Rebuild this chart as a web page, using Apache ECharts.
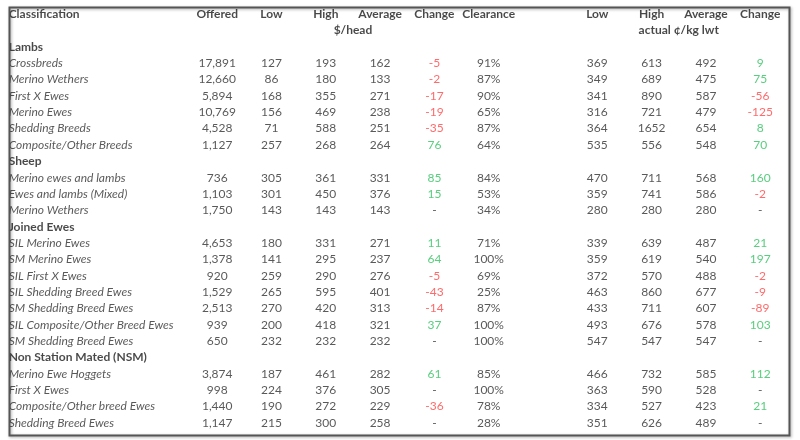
<!DOCTYPE html>
<html><head><meta charset="utf-8">
<script src="https://cdn.jsdelivr.net/npm/echarts@6/dist/echarts.min.js"></script>
<style>html,body{margin:0;padding:0;background:#fff}#c{width:800px;height:440px}</style>
</head><body><div id="c"></div>
<script>
// ---- data ----
const columnHeaders = ['Offered','Low','High','Average','Change','Clearance','Low','High','Average','Change'];
const unitHeaders = ['$/head','actual ¢/kg lwt'];
const sections = ['Lambs','Sheep','Joined Ewes','Non Station Mated (NSM)'];
const lambsNames = ['Crossbreds','Merino Wethers','First X Ewes','Merino Ewes','Shedding Breeds','Composite/Other Breeds'];
const lambsValues = [
  ['17,891','127','193','162','-5','91%','369','613','492','9'],
  ['12,660','86','180','133','-2','87%','349','689','475','75'],
  ['5,894','168','355','271','-17','90%','341','890','587','-56'],
  ['10,769','156','469','238','-19','65%','316','721','479','-125'],
  ['4,528','71','588','251','-35','87%','364','1652','654','8'],
  ['1,127','257','268','264','76','64%','535','556','548','70']
];
const sheepNames = ['Merino ewes and lambs','Ewes and lambs (Mixed)','Merino Wethers'];
const sheepValues = [
  ['736','305','361','331','85','84%','470','711','568','160'],
  ['1,103','301','450','376','15','53%','359','741','586','-2'],
  ['1,750','143','143','143','-','34%','280','280','280','-']
];
const joinedNames = ['SIL Merino Ewes','SM Merino Ewes','SIL First X Ewes','SIL Shedding Breed Ewes','SM Shedding Breed Ewes','SIL Composite/Other Breed Ewes','SM Shedding Breed Ewes'];
const joinedValues = [
  ['4,653','180','331','271','11','71%','339','639','487','21'],
  ['1,378','141','295','237','64','100%','359','619','540','197'],
  ['920','259','290','276','-5','69%','372','570','488','-2'],
  ['1,529','265','595','401','-43','25%','463','860','677','-9'],
  ['2,513','270','420','313','-14','87%','433','711','607','-89'],
  ['939','200','418','321','37','100%','493','676','578','103'],
  ['650','232','232','232','-','100%','547','547','547','-']
];
const nsmNames = ['Merino Ewe Hoggets','First X Ewes','Composite/Other breed Ewes','Shedding Breed Ewes'];
const nsmValues = [
  ['3,874','187','461','282','61','85%','466','732','585','112'],
  ['998','224','376','305','-','100%','363','590','528','-'],
  ['1,440','190','272','229','-36','78%','334','527','423','21'],
  ['1,147','215','300','258','-','28%','351','626','489','-']
];

// ---- layout ----
const colSlots = [0,1,2,3,4,5,7,8,9,10];
const unitSlots = [2.5, 8.5];
const classSlot = -3.85;
const changeCols = [4, 9];
const FONT = 'Lato';
const TXT = '#303030', HEAD = '#1a1a1a', RED = '#ff4545', GREEN = '#2ec25e';

const groups = [
  [sections[0], lambsNames, lambsValues],
  [sections[1], sheepNames, sheepValues],
  [sections[2], joinedNames, joinedValues],
  [sections[3], nsmNames, nsmValues]
];
const rows = [];
rows.push({type:'head'});
rows.push({type:'unit'});
groups.forEach(g => {
  rows.push({type:'section', name:g[0]});
  g[1].forEach((n,i) => rows.push({type:'item', name:n, values:g[2][i]}));
});
const yCats = rows.map((r,i)=>String(i));

const classData = [];
const colData = colSlots.map(()=>[]);
rows.forEach((r,i) => {
  if (r.type==='head') {
    classData.push({value:[classSlot,i], label:{formatter:'Classification', fontWeight:'bold', color:HEAD}});
    columnHeaders.forEach((h,c)=>colData[c].push({value:[colSlots[c],i], label:{formatter:h, fontWeight:'bold', color:HEAD}}));
  } else if (r.type==='unit') {
    unitHeaders.forEach((h,k)=>colData[k===0?3:8].push({value:[unitSlots[k],i], label:{formatter:h, fontWeight:'bold', color:HEAD}}));
  } else if (r.type==='section') {
    classData.push({value:[classSlot,i], label:{formatter:r.name, fontWeight:'bold', color:HEAD}});
  } else {
    classData.push({value:[classSlot,i], label:{formatter:r.name, fontStyle:'italic', color:TXT}});
    r.values.forEach((v,c)=>{
      let col = TXT;
      if (changeCols.includes(c) && v !== '-') col = v.startsWith('-') ? RED : GREEN;
      colData[c].push({value:[colSlots[c],i], label:{formatter:v, color:col}});
    });
  }
});

const baseLabel = {show:true, fontFamily:FONT, fontSize:12, color:TXT};
const series = [{
  type:'scatter', symbolSize:1, itemStyle:{color:'rgba(0,0,0,0)'}, silent:true,
  label:Object.assign({}, baseLabel, {position:'right', distance:0, align:'left'}),
  data:classData
}];
colData.forEach(d => series.push({
  type:'scatter', symbolSize:1, itemStyle:{color:'rgba(0,0,0,0)'}, silent:true,
  label:Object.assign({}, baseLabel, {position:'inside', align:'center'}),
  data:d
}));

const chart = echarts.init(document.getElementById('c'), null, {renderer:'canvas'});
chart.setOption({
  animation:false,
  grid:{left:0, right:0, top:6, height:425},
  xAxis:{type:'value', min:-4, max:10.733, show:false},
  yAxis:{type:'category', data:yCats, inverse:true, show:false},
  graphic:[{
    type:'rect', left:7, top:5, shape:{width:780, height:428},
    style:{fill:'none', stroke:'#555', lineWidth:2, shadowBlur:3, shadowColor:'rgba(0,0,0,0.35)', shadowOffsetX:1, shadowOffsetY:1},
    z:10
  }],
  series:series
});
</script></body></html>
